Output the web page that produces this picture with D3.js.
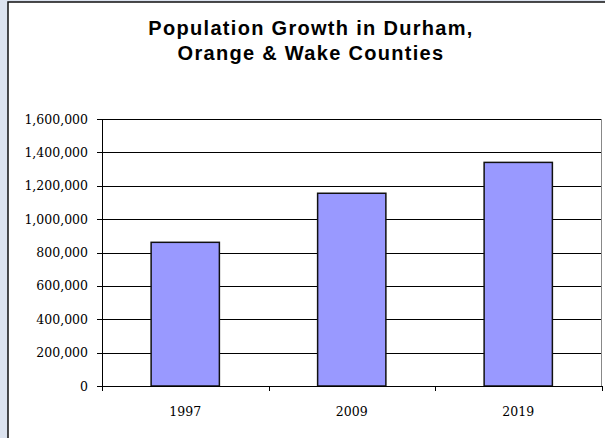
<!DOCTYPE html>
<html lang="en">
<head>
    <meta charset="UTF-8">
    <style>
        body { margin: 0; background: #dce3ef; }
        .title { font: bold 20px "Liberation Sans", Arial, sans-serif; letter-spacing: 1.3px; text-anchor: middle; fill: #000; }
        .axis text { font: 12.5px "DejaVu Serif", serif; fill: #000; }
        .axis path, .axis line { stroke: #000; shape-rendering: crispEdges; }
        .grid line { stroke: #000; shape-rendering: crispEdges; }
        .bar { fill: #9999ff; stroke: #111; stroke-width: 1.5; }
    </style>
    <script src="https://d3js.org/d3.v7.min.js"></script>
    <title>Population Growth in Durham, Orange & Wake Counties</title>
</head>
<body>
    <svg width="605" height="438"></svg>
    <script>
        // data
        var years = ["1997", "2009", "2019"];
        var population = [861000, 1155000, 1340000];
        var yTicks = [0, 200000, 400000, 600000, 800000, 1000000, 1200000, 1400000, 1600000];
        var titleLines = ["Population Growth in Durham,", "Orange & Wake Counties"];

        var svg = d3.select("svg");

        // page panel
        svg.append("rect").attr("x", 0).attr("y", 0).attr("width", 605).attr("height", 438).attr("fill", "#dce3ef");
        svg.append("rect").attr("x", 8).attr("y", 2).attr("width", 600).attr("height", 440)
           .attr("fill", "#fff").attr("stroke", "#111").attr("stroke-width", 1.5);

        // title
        svg.selectAll(".title").data(titleLines).enter().append("text")
           .attr("class", "title")
           .attr("x", 311)
           .attr("y", function(d, i) { return 35 + i * 25; })
           .text(function(d) { return d; });

        var plotL = 102, plotR = 601.5, plotT = 119, plotB = 386;

        var x = d3.scaleBand().domain(years).range([plotL, plotR]).paddingInner(0.59).paddingOuter(0.295);
        var xCat = d3.scaleBand().domain(years).range([plotL, plotR]);
        var y = d3.scaleLinear().domain([0, 1600000]).range([plotB, plotT]);

        // gridlines
        svg.append("g").attr("class", "grid")
           .selectAll("line").data(yTicks.slice(1)).enter().append("line")
           .attr("x1", plotL).attr("x2", plotR)
           .attr("y1", function(d) { return Math.round(y(d)) + 0.5; })
           .attr("y2", function(d) { return Math.round(y(d)) + 0.5; });

        // plot border right
        svg.append("line").attr("x1", plotR).attr("x2", plotR).attr("y1", plotT).attr("y2", plotB)
           .attr("stroke", "#888");

        // bars
        svg.selectAll(".bar").data(population).enter().append("rect")
           .attr("class", "bar")
           .attr("x", function(d, i) { return x(years[i]); })
           .attr("width", x.bandwidth())
           .attr("y", function(d) { return y(d); })
           .attr("height", function(d) { return plotB - y(d); });

        // y axis
        svg.append("g").attr("class", "axis")
           .attr("transform", "translate(" + plotL + ",0)")
           .call(d3.axisLeft(y).tickValues(yTicks).tickSizeOuter(0).tickSize(5).tickPadding(9)
                 .tickFormat(d3.format(",")));

        // x axis: ticks at category boundaries
        var xAxis = svg.append("g").attr("class", "axis")
           .attr("transform", "translate(0," + plotB + ")");
        xAxis.append("line").attr("x1", plotL).attr("x2", plotR + 1).attr("y1", 0).attr("y2", 0);
        xAxis.selectAll(".tick").data([0, 1, 2, 3]).enter().append("line")
           .attr("x1", function(d) { return Math.round(plotL + d * xCat.bandwidth()) + 0.5; })
           .attr("x2", function(d) { return Math.round(plotL + d * xCat.bandwidth()) + 0.5; })
           .attr("y1", 0).attr("y2", 5);
        xAxis.selectAll(".lbl").data(years).enter().append("text")
           .attr("x", function(d) { return xCat(d) + xCat.bandwidth() / 2; })
           .attr("y", 30)
           .attr("text-anchor", "middle")
           .text(function(d) { return d; });
    </script>
</body>
</html>
